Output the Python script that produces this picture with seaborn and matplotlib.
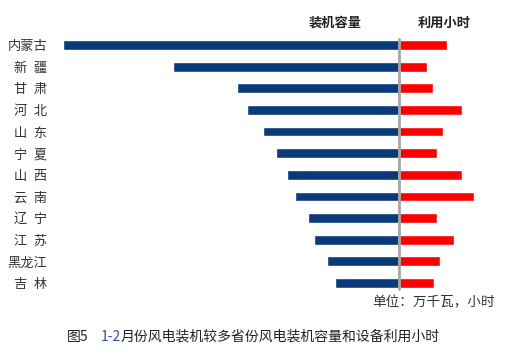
import matplotlib
matplotlib.use('Agg')
import matplotlib.pyplot as plt
import seaborn as sns

# 数据
provinces = ['内蒙古', '新\u2002疆', '甘\u2002肃', '河\u2002北', '山\u2002东', '宁\u2002夏',
             '山\u2002西', '云\u2002南', '辽\u2002宁', '江\u2002苏', '黑龙江', '吉\u2002林']
capacity = [2450, 1650, 1180, 1110, 990, 900, 815, 760, 665, 620, 525, 465]   # 万千瓦
hours = [255, 145, 180, 330, 230, 200, 330, 395, 200, 290, 215, 185]         # 小时

sns.set_style('white')
plt.rcParams['font.family'] = ['Noto Sans CJK SC', 'DejaVu Sans']

W, H = 507, 354
fig = plt.figure(figsize=(W / 100, H / 100), dpi=100)

# 坐标轴位置（像素换算）
top_px, bot_px = 34.2, 293.8
center_px, left_px, right_px = 399, 63, 480
ax_bottom = 1 - bot_px / H
ax_height = (bot_px - top_px) / H

axL = fig.add_axes([left_px / W, ax_bottom, (center_px - left_px) / W, ax_height])
axR = fig.add_axes([center_px / W, ax_bottom, (right_px - center_px) / W, ax_height])

sns.barplot(x=capacity, y=provinces, orient='h', color='#0a3a78',
            width=0.45, saturation=1, ax=axL)
sns.barplot(x=hours, y=provinces, orient='h', color='#ff0000',
            width=0.45, saturation=1, ax=axR)

axL.set_xlim(max(capacity), 0)
axR.set_xlim(0, (right_px - center_px) * 5.27)
for ax in (axL, axR):
    ax.set_ylim(len(provinces) - 0.5, -0.5)
    ax.set_xlabel('')
    ax.set_ylabel('')
    ax.set_xticks([])
    for s in ax.spines.values():
        s.set_visible(False)

axL.tick_params(axis='y', length=0, pad=11.5, labelsize=9.5, labelcolor='#333333')
axR.set_yticks([])

# 中间灰色竖线
axR.plot([0, 0], [-0.3, len(provinces) - 0.7], color='#a6a6a6', lw=2,
         clip_on=False, zorder=5)

# 标题
fig.text(335 / W, 1 - 23 / H, '装机容量', ha='center', va='center',
         fontsize=9.5, fontweight='bold', color='#222222')
fig.text(444 / W, 1 - 23 / H, '利用小时', ha='center', va='center',
         fontsize=9.5, fontweight='bold', color='#222222')

# 单位
fig.text(495 / W, 1 - 302 / H, '单位：万千瓦，小时', ha='right', va='center',
         fontsize=9.8, color='#333333')

# 图注
cap_y = 1 - 337 / H
fig.text(67 / W, cap_y, '图5', ha='left', va='center', fontsize=10, color='#222222')
fig.text(101 / W, cap_y, '1-2', ha='left', va='center', fontsize=10, color='#2f4fa8')
fig.text(121 / W, cap_y, '月份风电装机较多省份风电装机容量和设备利用小时',
         ha='left', va='center', fontsize=10, color='#222222')

fig.savefig('out.png', dpi=100, facecolor='white')
